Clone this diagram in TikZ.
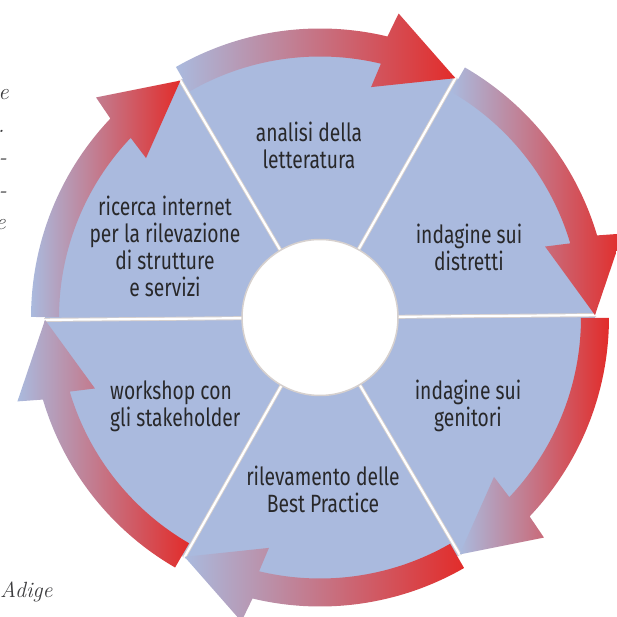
\documentclass[tikz,border=0pt]{standalone}
\usepackage{fontspec}
\newfontfamily\labfont[FakeStretch=0.77]{Fira Sans}
\definecolor{wedge}{RGB}{170,186,222}
\definecolor{arrred}{RGB}{226,44,42}
\definecolor{txt}{RGB}{40,40,42}
\definecolor{margtxt}{RGB}{60,60,62}
\definecolor{sepgray}{RGB}{214,208,206}
\begin{document}
\begin{tikzpicture}[x=1pt,y=1pt,
  lbl/.style={font=\labfont\fontsize{25}{27}\selectfont, text=txt, align=center, inner sep=0pt},
  marg/.style={font=\itshape\fontsize{23}{26}\selectfont, text=margtxt, inner sep=0pt},
  cyc/.style={left color=wedge, right color=arrred, draw=none},
  sepline/.style={draw=sepgray, line width=4pt},
  sepwhite/.style={draw=white, line width=2.2pt}]
\useasboundingbox (0,0) rectangle (617,617);
\begin{scope}
\clip (0,0) rectangle (617,617);
\begin{scope}[shift={(320,299.5)}, rotate=0.5]
\fill[wedge] (0,0) circle (275);
\foreach \a in {0,60,...,300} {
  \draw[sepline] (\a:78) -- (\a:276);
  \draw[sepwhite] (\a:78) -- (\a:276);
}
\foreach \s in {120,60,0,-60,-120,180} {
  \pgfmathsetmacro\t{\s-0.6}
  \pgfmathsetmacro\e{\s-60+16}
  \pgfmathsetmacro\eo{\e-1}
  \pgfmathsetmacro\ei{\e+1}
  \pgfmathsetmacro\h{\s-60}
  \shade[cyc] (\t:289) arc[start angle=\t, end angle=\e, radius=289]
     -- (\eo:314) -- (\h:275) -- (\ei:236) -- (\e:261)
     arc[start angle=\e, end angle=\t, radius=261] -- cycle;
}
\filldraw[fill=white, draw=sepgray, line width=1.5pt] (0,0) circle (78);
\end{scope}
\end{scope}
\node[lbl] (la) at (309,472) {analisi della\\letteratura};
\node[lbl] (lb) at (469,370) {indagine sui\\distretti};
\node[lbl] (lc) at (468,211) {indagine sui\\genitori};
\node[lbl] (ld) at (323,128) {rilevamento delle\\Best Practice};
\node[lbl, align=left, anchor=west] (le) at (110,211) {workshop con\\gli stakeholder};
\node[lbl] (lf) at (165,371) {ricerca internet\\per la rilevazione\\di strutture\\e servizi};
\node[marg, anchor=base east] (m1) at (9,517) {e};
\node[marg, anchor=base east] (m2) at (5,484.5) {.};
\node[marg, anchor=base east] (m3) at (7,452) {-};
\node[marg, anchor=base east] (m4) at (7,419.5) {-};
\node[marg, anchor=base east] (m5) at (6,387) {e};
\node[marg, font=\itshape\fontsize{22}{26}\selectfont, anchor=base west] (m6) at (0,19) {Adige};
\end{tikzpicture}
\end{document}
